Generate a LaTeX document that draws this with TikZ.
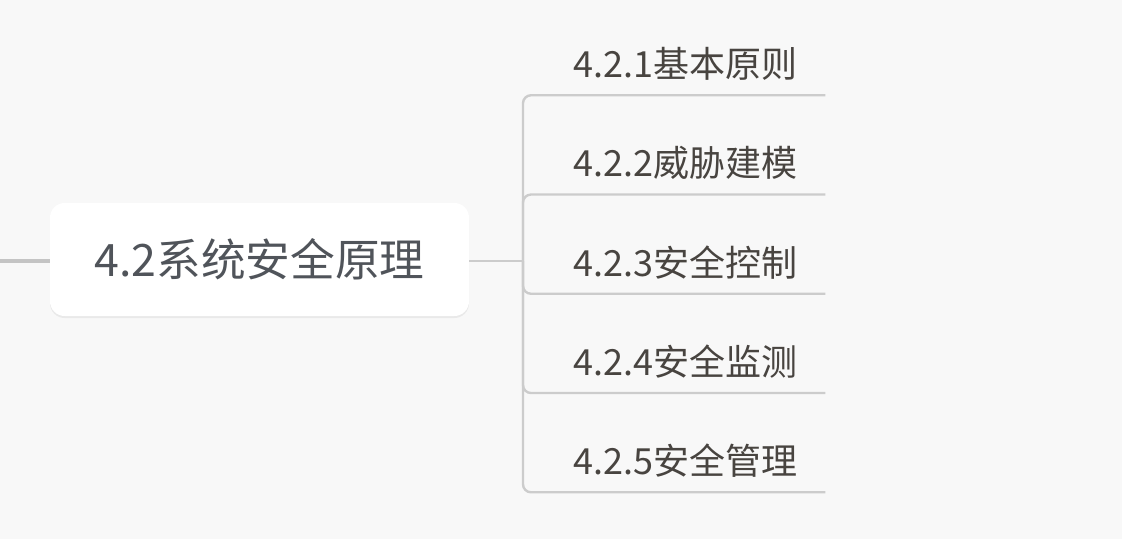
\documentclass[tikz,border=0pt]{standalone}
\usepackage{fontspec}
\setmainfont{Noto Sans CJK SC}
\usepackage{tikz}
\usetikzlibrary{calc,shadows}
\usepackage{xcolor}
\definecolor{bgcol}{HTML}{F8F8F8}
\definecolor{linecol}{HTML}{CCCCCC}
\definecolor{rootline}{HTML}{C4C4C4}
\definecolor{roottext}{HTML}{50545A}
\definecolor{subtext}{HTML}{484440}

\begin{document}
\begin{tikzpicture}[x=0.75pt, y=-0.75pt, node distance=74.44pt,
        rootbox/.style={rectangle, rounded corners=11pt, fill=white, minimum width=314.25pt, minimum height=84.75pt,
            text=roottext, font=\fontsize{33.5pt}{36pt}\selectfont,
            drop shadow={opacity=0.12, shadow xshift=0pt, shadow yshift=-1.5pt}},
        subtopic/.style={rectangle, minimum width=209.25pt, minimum height=46.5pt, inner sep=0pt,
            text=subtext, font=\fontsize{27pt}{30pt}\selectfont},
        branch/.style={draw=linecol, line width=1.8pt, rounded corners=6pt}]
        \fill[bgcol] (0,0) rectangle (1122,539);
        \useasboundingbox (0,0) rectangle (1122,539);
        \coordinate (in) at (0,261);
        \coordinate (fork) at (523,261);
        \node (root) [rootbox] at (259.5,259.5) {4.2系统安全原理};
        \node (c1) [subtopic] at (685.5,64) {4.2.1基本原则};
        \node (c2) [subtopic, below of=c1] {4.2.2威胁建模};
        \node (c3) [subtopic, below of=c2] {4.2.3安全控制};
        \node (c4) [subtopic, below of=c3] {4.2.4安全监测};
        \node (c5) [subtopic, below of=c4] {4.2.5安全管理};

        \draw[draw=rootline, line width=3.6pt] (in) -- (in -| root.west);
        \draw[draw=linecol, line width=1.6pt] (fork -| root.east) -- (fork);
        \draw[branch] (fork) |- (c1.south east);
        \draw[branch] (fork) |- (c2.south east);
        \draw[branch] (fork) |- (c3.south east);
        \draw[branch] (fork) |- (c4.south east);
        \draw[branch] (fork) |- (c5.south east);
    \end{tikzpicture}
\end{document}
